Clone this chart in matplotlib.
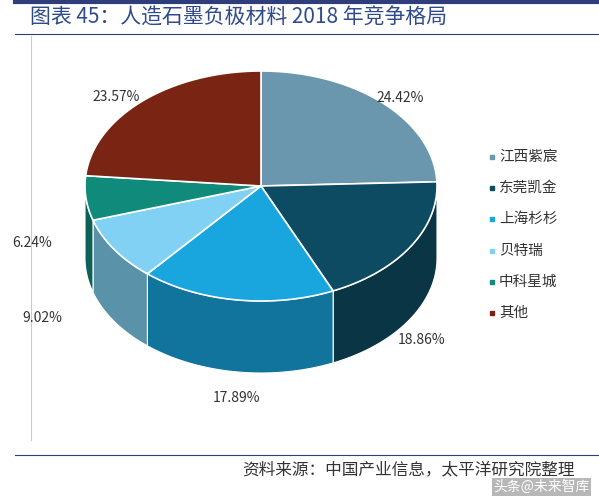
import numpy as np
import matplotlib.pyplot as plt
from matplotlib.patches import Polygon

plt.rcParams['font.family'] = ['Noto Sans CJK SC', 'DejaVu Sans']

names = ['江西紫宸', '东莞凯金', '上海杉杉', '贝特瑞', '中科星城', '其他']
shares = [24.42, 18.86, 17.89, 9.02, 6.24, 23.57]
colors = ['#6b97ae', '#0d4b63', '#19a6df', '#80d1f3', '#0f8a7b', '#7a2513']
label_pos = [(400, 98), (422, 340), (236, 398), (42, 318), (32, 243), (116, 97)]

cx, cy, rx, ry, depth = 261, 186, 176, 115, 72

def shade(c, f):
    c = np.array(plt.matplotlib.colors.to_rgb(c))
    return tuple(c * f)

fig = plt.figure(figsize=(5.99, 5.01), dpi=100)
ax = fig.add_axes([0, 0, 1, 1])
ax.set_xlim(0, 599)
ax.set_ylim(501, 0)
ax.axis('off')

# slices go clockwise from 12 o'clock; screen y points down
bounds = 90 - 360 * np.concatenate([[0], np.cumsum(shares)]) / sum(shares)
for i in range(len(names)):
    t = np.radians(np.linspace(bounds[i], bounds[i + 1], 200))
    x = cx + rx * np.cos(t)
    y = cy - ry * np.sin(t)
    # side wall on the front half
    front = np.sin(t) <= 0
    if front.any():
        fx, fy = x[front], y[front]
        sx = np.concatenate([fx, fx[::-1]])
        sy = np.concatenate([fy, fy[::-1] + depth])
        ax.add_patch(Polygon(np.column_stack([sx, sy]), closed=True,
                             fc=shade(colors[i], 0.7), ec='white', lw=0.8))
for i in range(len(names)):
    t = np.radians(np.linspace(bounds[i], bounds[i + 1], 200))
    x = np.concatenate([[cx], cx + rx * np.cos(t)])
    y = np.concatenate([[cy], cy - ry * np.sin(t)])
    ax.add_patch(Polygon(np.column_stack([x, y]), closed=True,
                         fc=colors[i], ec='white', lw=1.2))
    lx, ly = label_pos[i]
    ax.text(lx, ly, f'{shares[i]:.2f}%', fontsize=10, color='#333333',
            ha='center', va='center')

for i, n in enumerate(names):
    y = 157 + i * 31.2
    ax.plot(492, y, 's', ms=2.5, color=colors[i])
    ax.text(499, y, n, fontsize=10.5, color='#333333', va='center')

ax.text(30, 18, '图表 45：人造石墨负极材料 2018 年竞争格局', fontsize=15,
        color='#2f4a8c', va='center')
ax.plot([15, 599], [2, 2], color='#2f3e7a', lw=3)
ax.plot([15, 599], [34, 34], color='#2f3e7a', lw=0.8)
ax.plot([31, 31], [36, 440], color='#cccccc', lw=0.8)
ax.plot([15, 599], [455, 455], color='#2f3e7a', lw=0.8)
ax.text(575, 470, '资料来源：中国产业信息，太平洋研究院整理', fontsize=12,
        style='italic', color='#333333', ha='right', va='center')
ax.text(590, 487, '头条@未来智库', fontsize=10, color='white', ha='right',
        va='center', bbox=dict(fc='#888888', ec='none', alpha=0.6, pad=1))

fig.savefig('out.png', dpi=100)
